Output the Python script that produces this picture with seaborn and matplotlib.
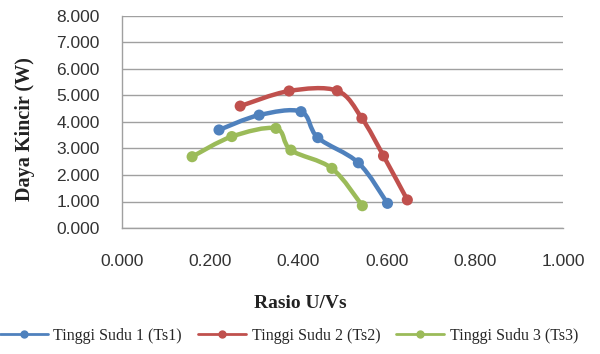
import numpy as np
import matplotlib
matplotlib.use("Agg")
import matplotlib.pyplot as plt
from matplotlib.path import Path
from matplotlib.patches import PathPatch
from matplotlib.lines import Line2D
import seaborn as sns
import pandas as pd

# ---- data ----
series_names = ["Tinggi Sudu 1 (Ts1)", "Tinggi Sudu 2 (Ts2)", "Tinggi Sudu 3 (Ts3)"]
ts1_x = [0.220, 0.311, 0.406, 0.444, 0.536, 0.602]
ts1_y = [3.70, 4.26, 4.39, 3.41, 2.46, 0.93]
ts2_x = [0.268, 0.379, 0.488, 0.544, 0.593, 0.647]
ts2_y = [4.60, 5.17, 5.18, 4.14, 2.72, 1.06]
ts3_x = [0.159, 0.249, 0.349, 0.383, 0.476, 0.545]
ts3_y = [2.69, 3.45, 3.76, 2.94, 2.25, 0.84]
x_ticks = [0.0, 0.2, 0.4, 0.6, 0.8, 1.0]
y_ticks = [0, 1, 2, 3, 4, 5, 6, 7, 8]
colors = ["#4F81BD", "#C0504D", "#9BBB59"]

sns.set_theme(style="white")
plt.rcParams['font.family'] = ['Liberation Sans', 'DejaVu Sans']

fig = plt.figure(figsize=(6.0, 3.54), dpi=100)
ax = fig.add_axes([122/600, 1-228/354, (563-122)/600, (228-16)/354])

def smooth_path(xs, ys):
    P = np.column_stack([xs, ys]).astype(float)
    n = len(P)
    verts = [P[0]]
    codes = [Path.MOVETO]
    for i in range(n - 1):
        p0 = P[i - 1] if i > 0 else P[i]
        p1 = P[i]
        p2 = P[i + 1]
        p3 = P[i + 2] if i + 2 < n else P[i + 1]
        c1 = p1 + (p2 - p0) / 6.0
        c2 = p2 - (p3 - p1) / 6.0
        verts += [c1, c2, p2]
        codes += [Path.CURVE4] * 3
    return Path(verts, codes)

all_x = [ts1_x, ts2_x, ts3_x]
all_y = [ts1_y, ts2_y, ts3_y]
frames = []
for name, xs, ys in zip(series_names, all_x, all_y):
    frames.append(pd.DataFrame({"x": xs, "y": ys, "series": name}))
df = pd.concat(frames, ignore_index=True)

for name, xs, ys, c in zip(series_names, all_x, all_y, colors):
    ax.add_patch(PathPatch(smooth_path(xs, ys), facecolor="none", edgecolor=c,
                           lw=3.2, capstyle="round", joinstyle="round", zorder=3))

sns.scatterplot(data=df, x="x", y="y", hue="series", palette=colors, s=64,
                edgecolor="none", legend=False, ax=ax, zorder=4)

ax.set_xlim(0, 1.0)
ax.set_ylim(0, 8)
ax.set_xticks(x_ticks)
ax.set_yticks(y_ticks)
ax.set_xticklabels([f"{v:.3f}" for v in x_ticks])
ax.set_yticklabels([f"{v:.3f}" for v in y_ticks])
ax.tick_params(axis="both", length=0, labelsize=12.5, colors="#333333")
ax.tick_params(axis="x", pad=19)
ax.tick_params(axis="y", pad=16)
ax.grid(axis="y", color="#A0A0A0", lw=1.0)
ax.grid(axis="x", visible=False)
for side in ["top", "right"]:
    ax.spines[side].set_visible(False)
for side in ["left", "bottom"]:
    ax.spines[side].set_color("#A0A0A0")
    ax.spines[side].set_linewidth(1.0)
ax.set_xlabel("")
ax.set_ylabel("")

fig.text(300/600, 1-304/354, "Rasio U/Vs", ha="center", va="center",
         family="Liberation Serif", fontweight="bold", fontsize=14, color="#222222")
fig.text(25/600, 1-129/354, "Daya Kincir (W)", ha="center", va="center", rotation=90,
         family="Liberation Serif", fontweight="bold", fontsize=14.5, color="#222222")

handles = [Line2D([], [], color=c, lw=2.0, marker="o", markersize=5) for c in colors]
fig.legend(handles, series_names, loc="center", bbox_to_anchor=(289/600, 1-336/354),
           ncol=3, frameon=False, prop={"family": "Liberation Serif", "size": 11.5},
           handlelength=3.0, handletextpad=0.35, columnspacing=1.0)

fig.savefig("out.png", dpi=100)
